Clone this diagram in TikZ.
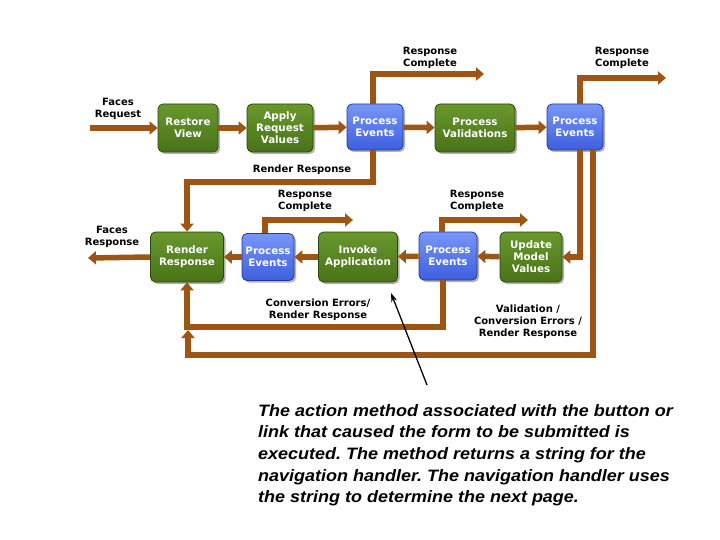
\documentclass[tikz,border=0pt]{standalone}
\usepackage{fontspec}
\setmainfont{DejaVu Sans}
\newfontfamily\notefont[FakeStretch=1.09]{Liberation Sans}
\usetikzlibrary{arrows.meta,shadows}
\definecolor{flow}{RGB}{158,84,18}
\definecolor{gbox}{RGB}{72,115,24}
\definecolor{gboxtop}{RGB}{105,152,45}
\definecolor{gedge}{RGB}{40,72,12}
\definecolor{bbox}{RGB}{62,95,222}
\definecolor{bboxtop}{RGB}{120,150,248}
\definecolor{bedge}{RGB}{35,55,150}
\tikzset{
  phase/.style={rounded corners=5pt, draw=gedge, line width=0.8pt,
    top color=gboxtop, bottom color=gbox, text=white,
    font=\fontsize{10.3}{12}\selectfont\bfseries, align=center, inner sep=0pt,
    drop shadow={shadow xshift=2pt, shadow yshift=-2pt, fill=black!60, opacity=0.5}},
  evbox/.style={phase, draw=bedge, top color=bboxtop, bottom color=bbox},
  flowline/.style={draw=flow, line width=5.5pt, line join=miter,
    -{Triangle[length=8pt,width=13pt]}},
  lbl/.style={font=\fontsize{10}{12}\selectfont\bfseries, align=center, inner sep=0pt},
}
\begin{document}
\begin{tikzpicture}[x=1pt,y=-1pt]
\useasboundingbox (0,0) rectangle (720,540);
\fill[white] (0,0) rectangle (720,540);

% top row
\node[phase, minimum width=60pt, minimum height=48pt] (rv) at (188,128) {Restore\\View};
\node[phase, minimum width=66pt, minimum height=48pt] (arv) at (280,128) {Apply\\Request\\Values};
\node[evbox, minimum width=56pt, minimum height=46pt] (pe1) at (375,127) {Process\\Events};
\node[phase, minimum width=80pt, minimum height=48pt] (pv) at (475,128) {Process\\Validations};
\node[evbox, minimum width=56pt, minimum height=46pt] (pe2) at (575,127) {Process\\Events};

% bottom row
\node[phase, minimum width=73pt, minimum height=50pt] (rr) at (187,257) {Render\\Response};
\node[evbox, minimum width=52pt, minimum height=47pt] (pe3) at (268,257) {Process\\Events};
\node[phase, minimum width=79pt, minimum height=50pt] (ia) at (358,257) {Invoke\\Application};
\node[evbox, minimum width=58pt, minimum height=48pt] (pe4) at (448,256) {Process\\Events};
\node[phase, minimum width=62pt, minimum height=50pt] (umv) at (531,257) {Update\\Model\\Values};

% labels
\node[lbl] (lfreq) at (118,109) {Faces\\Request};
\node[lbl] (lfres) at (112,237) {Faces\\Response};
\node[lbl] (lrc1) at (430,58) {Response\\Complete};
\node[lbl] (lrc2) at (622,58) {Response\\Complete};
\node[lbl] (lrr) at (302,170) {Render Response};
\node[lbl] (lrc3) at (305,201) {Response\\Complete};
\node[lbl] (lrc4) at (477,201) {Response\\Complete};
\node[lbl] (lce) at (318,310) {Conversion Errors/\\Render Response};
\node[lbl] (lval) at (528,322) {Validation /\\Conversion Errors /\\Render Response};

% coordinates
\coordinate (freqin) at (90,128);
\coordinate (fresout) at (88,258);
\coordinate (rc1end) at (484,74);
\coordinate (rc2end) at (666,78);
\coordinate (rc3end) at (353,220);
\coordinate (rc4end) at (528,220);

% top flow
\draw[flowline] (freqin) -- (rv.west);
\draw[flowline] (rv) -- (arv);
\draw[flowline] (arv) -- (pe1);
\draw[flowline] (pe1) -- (pv);
\draw[flowline] (pv) -- (pe2);

% response complete top
\draw[flowline] (pe1.north -| 373,0) |- (rc1end);
\draw[flowline] (pe2.north -| 580,0) |- (rc2end);

% render response from pe1
\draw[flowline] (pe1.south -| 373,0) -- (373,182) -| (rr.north);

% bottom flow (leftwards)
\draw[flowline] (rr.west) -- (fresout);
\draw[flowline] (pe3) -- (rr);
\draw[flowline] (ia) -- (pe3);
\draw[flowline] (pe4) -- (ia);
\draw[flowline] (umv) -- (pe4);
\draw[flowline] (pe2.south -| 580,0) |- (umv.east);

% response complete bottom
\draw[flowline] (pe3.north -| 265,0) |- (rc3end);
\draw[flowline] (pe4.north -| 442,0) |- (rc4end);

% conversion errors loop
\draw[flowline] (pe4.south -| 443,0) -- (443,327) -| (rr.south);
% validation loop
\draw[flowline] (pe2.south -| 593,0) -- (593,355) -| (188,330);

% annotation
\coordinate (annstart) at (427,385);
\draw[line width=1.3pt, -{Stealth[length=9pt,width=6pt]}] (annstart) -- (391,293);

\node[anchor=north west, inner sep=0pt, align=left,
  font=\notefont\fontsize{16.5}{21.7}\selectfont\bfseries\itshape\frenchspacing] (note) at (258,404)
  {The action method associated with the button or\\
   link that caused the form to be submitted is\\
   executed. The method returns a string for the\\
   navigation handler. The navigation handler uses\\
   the string to determine the next page.};
\end{tikzpicture}
\end{document}
